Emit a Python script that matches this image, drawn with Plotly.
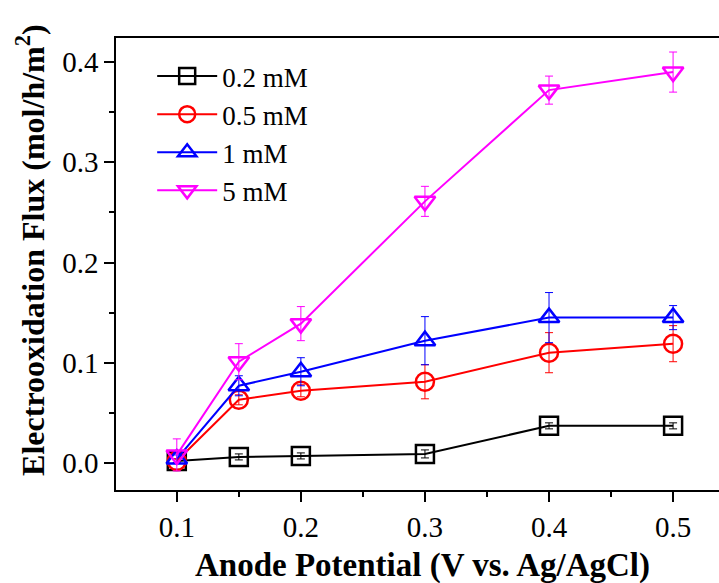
import plotly.graph_objects as go

potential = [0.1, 0.15, 0.2, 0.3, 0.4, 0.5]
series_names = ["0.2 mM", "0.5 mM", "1 mM", "5 mM"]
flux_02 = [0.002, 0.006, 0.007, 0.009, 0.037, 0.037]
err_02 = [0.002, 0.003, 0.003, 0.004, 0.003, 0.003]
flux_05 = [0.002, 0.063, 0.072, 0.081, 0.110, 0.119]
err_05 = [0.002, 0.005, 0.006, 0.017, 0.020, 0.018]
flux_1 = [0.004, 0.077, 0.091, 0.122, 0.145, 0.145]
err_1 = [0.004, 0.010, 0.014, 0.024, 0.025, 0.012]
flux_5 = [0.008, 0.101, 0.139, 0.261, 0.372, 0.390]
err_5 = [0.016, 0.018, 0.017, 0.015, 0.014, 0.020]
x_ticks = [0.1, 0.2, 0.3, 0.4, 0.5]
y_ticks = [0.0, 0.1, 0.2, 0.3, 0.4]
x_title = "<b>Anode Potential (V vs. Ag/AgCl)</b>"
y_title = "<b>Electrooxidation Flux (mol/h/m<sup>2</sup>)</b>"

colors = ["#000000", "#ff0000", "#0000ff", "#ff00ff"]
symbols = ["square-open", "circle-open", "triangle-up-open", "triangle-down-open"]
data = [(flux_02, err_02), (flux_05, err_05), (flux_1, err_1), (flux_5, err_5)]

fig = go.Figure()
for name, (y, e), c, s in zip(series_names, data, colors, symbols):
    fig.add_trace(go.Scatter(
        x=potential, y=y, name=name, mode="lines+markers",
        line=dict(color=c, width=2),
        marker=dict(symbol=s, size=18, color=c, line=dict(color=c, width=2.5)),
        error_y=dict(type="data", array=e, visible=True, color=c, thickness=1, width=4),
    ))

font_family = "Liberation Serif"
fig.update_layout(
    template="none",
    width=719, height=583,
    margin=dict(l=116, r=0, t=38, b=93, pad=0),
    paper_bgcolor="white", plot_bgcolor="white",
    font=dict(family=font_family, size=29, color="black"),
    showlegend=True,
    legend=dict(x=0.06, y=0.969, xanchor="left", yanchor="top",
                bgcolor="rgba(0,0,0,0)", borderwidth=0,
                font=dict(size=27, family=font_family, color="black"),
                tracegroupgap=0, itemwidth=60),
    xaxis=dict(
        range=[0.051, 0.537],
        tickmode="array", tickvals=x_ticks,
        ticktext=[f"{v:.1f}" for v in x_ticks],
        ticks="outside", ticklen=10, tickwidth=1.5, tickcolor="black",
        minor=dict(tickvals=[0.15, 0.25, 0.35, 0.45], ticks="outside", ticklen=5, tickwidth=1.5, tickcolor="black"),
        showline=True, linecolor="black", linewidth=1.5, mirror=True,
        showgrid=False, zeroline=False, automargin=False,
        tickfont=dict(size=29, family=font_family, color="black"),
    ),
    yaxis=dict(
        range=[-0.027, 0.424],
        tickmode="array", tickvals=y_ticks,
        ticktext=[f"{v:.1f}" for v in y_ticks],
        ticks="outside", ticklen=10, tickwidth=1.5, tickcolor="black",
        minor=dict(tickvals=[0.05, 0.15, 0.25, 0.35], ticks="outside", ticklen=5, tickwidth=1.5, tickcolor="black"),
        showline=True, linecolor="black", linewidth=1.5, mirror=False,
        showgrid=False, zeroline=False, automargin=False,
        tickfont=dict(size=29, family=font_family, color="black"),
    ),
    annotations=[
        dict(text=x_title, xref="paper", yref="paper", x=0.5075, y=-0.166,
             xanchor="center", yanchor="middle", showarrow=False,
             font=dict(size=33, family=font_family, color="black")),
        dict(text=y_title, xref="paper", yref="paper", x=-0.1426, y=0.529,
             xanchor="center", yanchor="middle", textangle=-90, showarrow=False,
             font=dict(size=32, family=font_family, color="black")),
    ],
)
fig.write_html("out.html", config={"displayModeBar": False},
               post_script="document.body.style.margin='0';document.body.style.overflow='hidden';")
